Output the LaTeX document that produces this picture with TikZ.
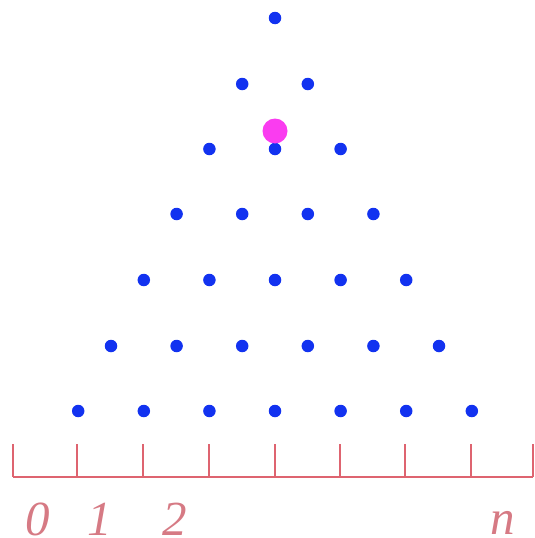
\documentclass[tikz,border=0pt]{standalone}
\usepackage{fontspec}
\setmainfont{Liberation Serif}
\definecolor{dotblue}{RGB}{18,50,240}
\definecolor{dotmag}{RGB}{250,60,240}
\definecolor{axisred}{RGB}{222,100,112}
\definecolor{labred}{RGB}{214,122,132}
\begin{document}
\begin{tikzpicture}[x=1pt,y=-1pt,
  bdot/.style={circle,fill=dotblue,inner sep=0pt,minimum size=12.5pt},
  mdot/.style={circle,fill=dotmag,inner sep=0pt,minimum size=25pt},
  axisline/.style={draw=axisred,line width=1.5pt},
  lab/.style={text=labred,font=\fontsize{49}{49}\selectfont\itshape,inner sep=0pt}]
\useasboundingbox (0,0) rectangle (535,538);
% rows of dots
\foreach \r/\y in {0/18,1/84,2/149,3/214,4/280,5/346,6/411}{
  \foreach \k in {0,...,\r}{
    \pgfmathsetmacro{\xx}{275 - 32.8*\r + 65.6*\k}
    \node[bdot] (d\r-\k) at (\xx,\y) {};
  }
}
\node[mdot] (m) at (275,131) {};
% axis
\coordinate (a0) at (13,477);
\coordinate (a1) at (533,477);
\draw[axisline] (a0) -- (a1);
\foreach \x [count=\i] in {13,77,143,209,275,340,405,471,533}{
  \coordinate (t\i) at (\x,444);
  \coordinate (b\i) at (\x,477);
  \draw[axisline] (t\i) -- (b\i);
}
\node[lab] (l0) at (38,519) {0};
\node[lab] (l1) at (100,519) {1};
\node[lab] (l2) at (175,519) {2};
\node[lab] (ln) at (503,523) {n};
\end{tikzpicture}
\end{document}
